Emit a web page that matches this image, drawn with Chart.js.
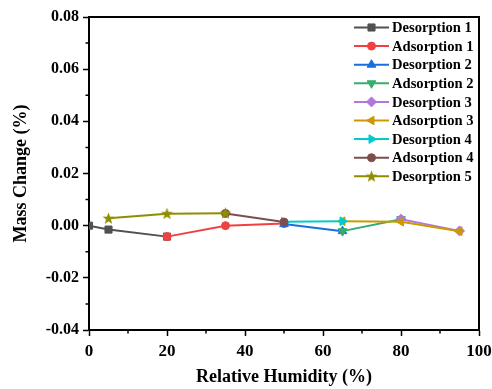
<!DOCTYPE html>
<html>
<head>
<meta charset="utf-8">
<script src="https://cdn.jsdelivr.net/npm/chart.js@4/dist/chart.umd.min.js"></script>
<style>
  html, body { margin: 0; padding: 0; background: #fff; }
  #box { width: 492px; height: 389px; }
</style>
</head>
<body>
<div id="box"><canvas id="myChart"></canvas></div>
<script>
// series names and values (x = RH %, y = mass change %)
const seriesNames = ['Desorption 1', 'Adsorption 1', 'Desorption 2', 'Adsorption 2', 'Desorption 3',
  'Adsorption 3', 'Desorption 4', 'Adsorption 4', 'Desorption 5'];

const rhD1 = [0, 5, 20];        const massD1 = [0, -0.0015, -0.0042];
const rhA1 = [20, 35, 50];      const massA1 = [-0.0042, 0.0000, 0.0008];
const rhD2 = [50, 65];          const massD2 = [0.0006, -0.0021];
const rhA2 = [65, 80];          const massA2 = [-0.0021, 0.0025];
const rhD3 = [80, 95];          const massD3 = [0.0025, -0.0020];
const rhA3 = [95, 80, 65];      const massA3 = [-0.0021, 0.0015, 0.0017];
const rhD4 = [50, 65];          const massD4 = [0.0015, 0.0017];
const rhA4 = [35, 50];          const massA4 = [0.0047, 0.0014];
const rhD5 = [5, 20, 35];       const massD5 = [0.0028, 0.0046, 0.0048];

const xTicks = [0, 20, 40, 60, 80, 100];
const yTicks = [-0.04, -0.02, 0.00, 0.02, 0.04, 0.06, 0.08];

const rhList = [rhD1, rhA1, rhD2, rhA2, rhD3, rhA3, rhD4, rhA4, rhD5];
const massList = [massD1, massA1, massD2, massA2, massD3, massA3, massD4, massA4, massD5];

const colors = ['#515151', '#F14040', '#1A6FDF', '#37AD6B', '#B177DE', '#CC9900', '#00CBCC', '#7D4E4E', '#8E8E00'];

// filled star marker for the last series
const starImg = document.createElement('canvas');
starImg.width = 13; starImg.height = 13;
(function () {
  const c = starImg.getContext('2d');
  c.fillStyle = colors[8];
  c.beginPath();
  for (let k = 0; k < 10; k++) {
    const r = k % 2 === 0 ? 6.3 : 2.6;
    const a = -Math.PI / 2 + k * Math.PI / 5;
    const px = 6.5 + r * Math.cos(a), py = 6.8 + r * Math.sin(a);
    if (k === 0) c.moveTo(px, py); else c.lineTo(px, py);
  }
  c.closePath();
  c.fill();
})();

const styles = ['rect', 'circle', 'triangle', 'triangle', 'rectRot', 'triangle', 'triangle', 'circle', starImg];
const rotations = [0, 0, 0, 180, 0, -90, 90, 0, 0];
const radii = [5, 4, 5, 5, 5, 5, 5, 4, 6];

const serif = "'Liberation Serif', 'Times New Roman', serif";

const datasets = seriesNames.map((name, i) => ({
  label: name,
  data: rhList[i].map((x, j) => ({ x: x, y: massList[i][j] })),
  borderColor: colors[i],
  backgroundColor: colors[i],
  borderWidth: 2,
  pointStyle: styles[i],
  pointRotation: rotations[i],
  pointRadius: radii[i],
  pointBorderWidth: 1,
  pointBackgroundColor: colors[i],
  pointBorderColor: colors[i],
  tension: 0,
  order: 9 - i
}));

// frame, minor ticks and the line+marker legend
const extras = {
  id: 'extras',
  afterDraw(chart) {
    const ctx = chart.ctx;
    const a = chart.chartArea;
    const xs = chart.scales.x, ys = chart.scales.y;
    ctx.save();
    ctx.strokeStyle = '#000';
    ctx.lineWidth = 2;
    ctx.beginPath();
    ctx.moveTo(a.left, a.top); ctx.lineTo(a.right, a.top); ctx.lineTo(a.right, a.bottom);
    ctx.stroke();
    ctx.lineWidth = 1.5;
    ctx.beginPath();
    for (let v = 10; v < 100; v += 20) {
      const px = xs.getPixelForValue(v);
      ctx.moveTo(px, a.bottom); ctx.lineTo(px, a.bottom + 3.5);
    }
    for (let v = -0.03; v < 0.08; v += 0.02) {
      const py = ys.getPixelForValue(v);
      ctx.moveTo(a.left, py); ctx.lineTo(a.left - 3.5, py);
    }
    ctx.stroke();

    ctx.font = 'bold 14.6px ' + serif;
    ctx.textBaseline = 'middle';
    ctx.textAlign = 'left';
    seriesNames.forEach((name, i) => {
      const ly = 27.5 + i * 18.6;
      ctx.strokeStyle = colors[i];
      ctx.lineWidth = 2;
      ctx.beginPath();
      ctx.moveTo(354, ly); ctx.lineTo(389, ly);
      ctx.stroke();
      ctx.fillStyle = colors[i];
      ctx.strokeStyle = colors[i];
      ctx.lineWidth = 1;
      Chart.helpers.drawPoint(ctx, { pointStyle: styles[i], rotation: rotations[i], radius: radii[i], borderWidth: 1 }, 371.5, ly);
      ctx.fillStyle = '#000';
      ctx.fillText(name, 392, ly + 1);
    });
    ctx.restore();
  }
};

const ctx = document.getElementById('myChart');
const myChart = new Chart(ctx, {
  type: 'line',
  data: { datasets: datasets },
  options: {
    responsive: true,
    maintainAspectRatio: false,
    animation: false,
    layout: { padding: { top: 17, right: 13, left: 0, bottom: 0 } },
    plugins: { legend: { display: false }, tooltip: { enabled: false } },
    scales: {
      x: {
        type: 'linear',
        min: 0, max: 100,
        afterFit: (s) => { s.height = 59; s.paddingRight = 0; s.paddingLeft = 0; },
        afterBuildTicks: (s) => { s.ticks = xTicks.map(v => ({ value: v })); },
        ticks: { color: '#000', font: { family: serif, size: 17, weight: 'bold' }, padding: 5, maxRotation: 0,
          callback: (v) => String(v) },
        grid: { drawOnChartArea: false, drawTicks: true, tickLength: 6, tickWidth: 1.5, tickColor: '#000' },
        border: { display: true, color: '#000', width: 2 },
        title: { display: true, text: 'Relative Humidity (%)', color: '#000',
          font: { family: serif, size: 18, weight: 'bold' }, padding: { top: 4, bottom: 1 } }
      },
      y: {
        type: 'linear',
        min: -0.04, max: 0.08,
        afterFit: (s) => { s.width = 89; s.paddingTop = 0; s.paddingBottom = 0; },
        afterBuildTicks: (s) => { s.ticks = yTicks.map(v => ({ value: v })); },
        ticks: { color: '#000', font: { family: serif, size: 16, weight: 'bold' }, padding: 4,
          callback: (v) => v.toFixed(2) },
        grid: { drawOnChartArea: false, drawTicks: true, tickLength: 6, tickWidth: 1.5, tickColor: '#000' },
        border: { display: true, color: '#000', width: 2 },
        title: { display: true, text: 'Mass Change (%)', color: '#000',
          font: { family: serif, size: 18, weight: 'bold' }, padding: { top: 11, bottom: 4 } }
      }
    }
  },
  plugins: [extras]
});
</script>
</body>
</html>
